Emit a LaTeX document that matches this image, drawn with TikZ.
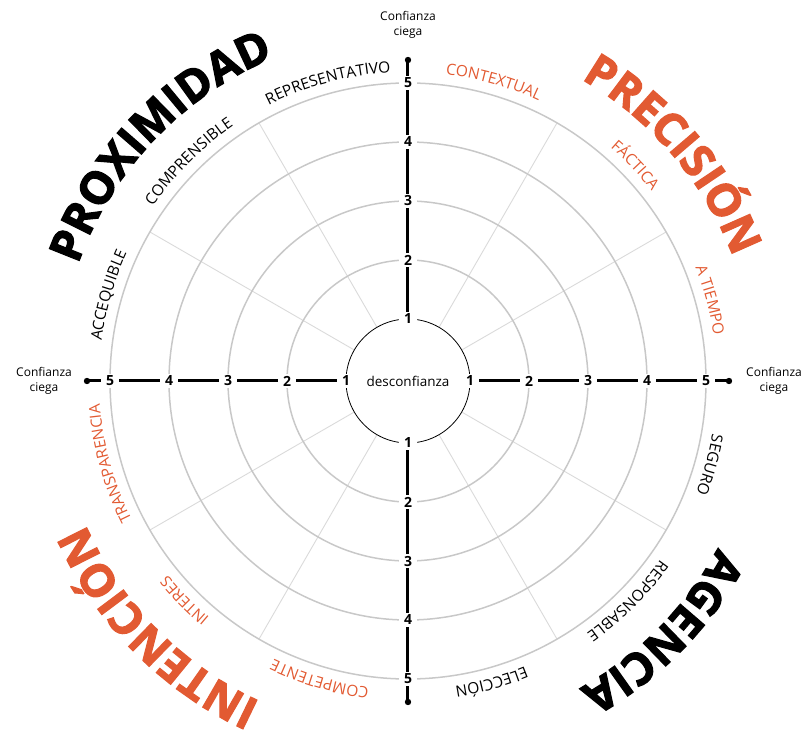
\documentclass[tikz,border=0pt]{standalone}
\usepackage{fontspec}
\setmainfont{Open Sans}
\newfontfamily\titulofont[BoldFeatures={FakeBold=2.5}]{Open Sans}
\usetikzlibrary{decorations.text}
\definecolor{naranja}{HTML}{E25A32}
\definecolor{gris}{HTML}{C8C8C8}
\definecolor{grisclaro}{HTML}{DADADA}
\newcommand\etiq{\fontsize{15.5}{15.5}\selectfont}
\newcommand\titulo{\titulofont\bfseries\fontsize{45}{45}\selectfont}
% #1 angulo central, #2 radio, #3 medio arco, #4 formato, #5 texto
\newcommand\curvo[5]{\path[decorate,decoration={text along path,text align=center,text={|#4|#5}}] (#1+#3:#2) arc[start angle=#1+#3,end angle=#1-#3,radius=#2];}
\tikzset{
  anillo/.style={gris,line width=1.5pt},
  radio/.style={grisclaro,line width=0.9pt},
  eje/.style={black,line width=3pt},
  num/.style={fill=white,inner xsep=5pt,inner ysep=2pt,font=\bfseries\fontsize{14}{14}\selectfont},
  extremo/.style={align=center,font=\fontsize{12}{15}\selectfont}
}
\begin{document}
\begin{tikzpicture}[x=1pt,y=1pt]
\useasboundingbox (-408,-350) rectangle (399,381);
\foreach \a in {30,60,120,150,210,240,300,330}{\draw[radio] (\a:62)--(\a:298);}
\foreach \k in {2,...,5}{\draw[anillo] (0,0) circle ({62+59*(\k-1)});}
\draw[black,line width=0.8pt] (0,0) circle (62);
\foreach \a in {0,90,180,270}{\coordinate (fin\a) at (\a:321); \draw[eje] (\a:62)--(fin\a); \fill (fin\a) circle (3.2);}
\foreach \a in {0,90,180,270}{\foreach \k in {1,...,5}{\node[num] (n\a-\k) at (\a:{62+59*(\k-1)}) {\k};}}
\node[font=\fontsize{13.5}{13.5}\selectfont] (centro) at (0,0) {desconfianza};
\node[extremo] (cima) at (90:356) {Confianza\\ciega};
\node[extremo] (izq) at (180:364) {Confianza\\ciega};
\node[extremo] (der) at (0:366) {Confianza\\ciega};
% etiquetas de cada cuadrante
\curvo{105}{309}{40}{\etiq}{REPRESENTATIVO}
\curvo{135}{309}{40}{\etiq}{COMPRENSIBLE}
\curvo{164}{309}{40}{\etiq}{ACCEQUIBLE}
\curvo{74}{309}{40}{\color{naranja}\etiq}{CONTEXTUAL}
\curvo{43.5}{309}{40}{\color{naranja}\etiq}{FÁCTICA}
\curvo{15}{309}{40}{\color{naranja}\etiq}{A TIEMPO}
\curvo{-15.5}{309}{40}{\etiq}{SEGURO}
\curvo{-45}{309}{40}{\etiq}{RESPONSABLE}
\curvo{-74.5}{309}{40}{\etiq}{ELECCIÓN}
\curvo{195.5}{309}{40}{\color{naranja}\etiq}{TRANSPARENCIA}
\curvo{224.5}{309}{40}{\color{naranja}\etiq}{INTERES}
\curvo{253.5}{309}{40}{\color{naranja}\etiq}{COMPETENTE}
% titulos
\curvo{136.5}{350}{50}{\titulo}{PROXIMIDAD}
\curvo{40.5}{348}{50}{\color{naranja}\titulo}{PRECISIÓN}
\curvo{-44.6}{352}{50}{\titulo}{AGENCIA}
\curvo{224.6}{353}{50}{\color{naranja}\titulo}{INTENCIÓN}
\end{tikzpicture}
\end{document}
